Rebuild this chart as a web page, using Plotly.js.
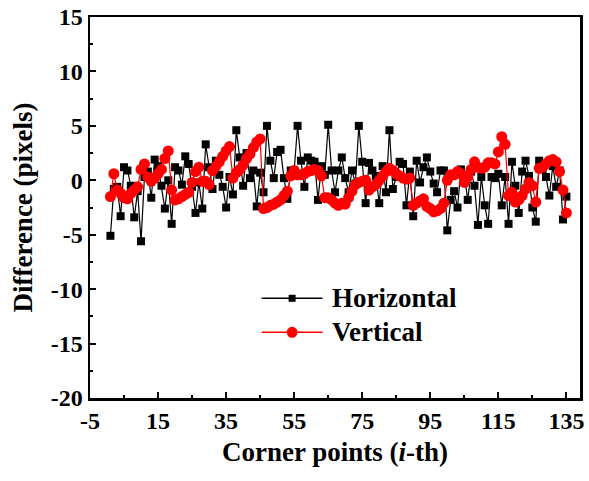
<!DOCTYPE html>
<html>
<head>
<meta charset="utf-8">
<script src="https://cdn.plot.ly/plotly-3.0.1.min.js"></script>
<style>html,body{margin:0;padding:0;background:#fff}#chart{width:589px;height:481px}</style>
</head>
<body>
<div id="chart"></div>
<script>
// Corner point index
const cornerIndex = Array.from({length: 135}, (_, k) => k + 1);

// Horizontal difference (pixels)
const horizontal = [
 -5.1,-0.8,-0.6,-3.3,1.2,0.9,-0.5,-3.4,-1.0,-5.6,
 0.3,0.8,-1.6,1.9,1.3,-0.5,-2.6,0.0,-4.0,1.2,
 0.9,-0.4,2.2,1.5,-0.6,-3.0,-0.2,-2.6,3.3,1.2,
 -0.8,1.8,0.5,-0.6,-2.5,0.3,-1.3,4.6,2.1,-0.5,
 2.5,0.2,0.9,-2.4,0.7,-1.1,5.0,1.8,0.2,2.6,
 2.8,0.2,-1.7,0.9,0.9,5.0,1.8,-0.6,2.1,1.8,
 1.7,-1.8,1.3,0.5,5.1,0.9,-1.1,0.9,2.1,0.2,
 -1.1,0.9,-0.3,5.0,1.7,-2.1,1.6,0.9,0.4,-2.1,
 1.3,-1.1,4.6,-0.8,0.3,1.7,1.5,-2.3,0.8,-3.3,
 1.8,-0.2,1.2,2.1,0.8,-0.3,-1.1,0.9,0.9,-4.6,
 -1.8,-1.0,-2.5,1.0,0.5,-1.8,0.8,-0.5,-4.1,0.3,
 -2.3,-4.0,0.3,0.2,0.6,-2.3,0.3,-4.0,1.7,-0.5,
 -3.0,0.8,1.8,0.4,-2.5,-3.8,1.8,1.0,0.3,-1.4,
 1.3,-0.6,0.9,-3.6,-1.5
];

// Vertical difference (pixels)
const vertical = [
 -1.5,0.6,-0.9,-1.2,-1.6,-1.7,-1.2,-0.9,-0.6,1.0,
 1.5,0.3,-0.1,0.2,0.6,1.0,2.0,2.7,-0.9,-1.8,
 -1.7,-1.5,-1.3,-1.1,-0.2,0.8,1.2,-0.1,-0.1,-0.4,
 0.9,1.3,1.7,2.2,2.7,3.1,0.2,0.7,1.0,1.4,
 2.0,2.4,3.0,3.5,3.8,-2.6,-2.5,-2.3,-2.2,-2.0,
 -1.8,-1.4,-1.0,0.4,0.9,0.5,0.5,0.6,0.8,0.9,
 1.0,0.9,0.4,-1.6,-1.6,-1.8,-2.1,-2.3,-2.1,-2.2,
 -1.6,-1.0,-0.4,-0.2,-0.1,0.0,-0.9,-0.6,-0.4,0.0,
 0.4,0.8,1.1,0.9,0.6,0.4,0.2,0.1,0.2,-2.3,
 -2.1,-1.9,-1.7,-2.4,-2.6,-2.9,-2.8,-2.6,-2.1,0.0,
 0.5,0.5,0.8,0.6,-0.2,0.3,1.0,1.7,1.2,1.1,
 1.2,1.6,1.6,1.5,2.6,4.0,3.3,-1.4,-1.1,-2.0,
 -1.8,-1.4,-0.8,-0.2,-0.5,-2.0,1.1,1.2,1.5,1.8,
 1.9,1.7,0.8,-0.9,-3.0
];

const seriesNames = ['Horizontal', 'Vertical'];
const seriesColors = ['#000000', '#ff0000'];
const xTickVals = [-5, 15, 35, 55, 75, 95, 115, 135];
const yTickVals = [-20, -15, -10, -5, 0, 5, 10, 15];

const fontFam = 'Liberation Serif, Times New Roman, serif';

const traces = [
  {
    x: cornerIndex, y: horizontal, name: seriesNames[0], type: 'scatter', mode: 'lines+markers',
    line: {color: seriesColors[0], width: 1.2},
    marker: {symbol: 'square', size: 8, color: seriesColors[0]},
    showlegend: false
  },
  {
    x: cornerIndex, y: vertical, name: seriesNames[1], type: 'scatter', mode: 'lines+markers',
    line: {color: seriesColors[1], width: 1.2},
    marker: {symbol: 'circle', size: 11, color: seriesColors[1]},
    showlegend: false
  }
];

const axisCommon = {
  showline: true, mirror: true, linecolor: '#000', linewidth: 2.5,
  ticks: 'inside', ticklen: 6, tickwidth: 2, tickcolor: '#000',
  showgrid: false, zeroline: false,
  tickfont: {family: fontFam, size: 24, color: '#000', weight: 'bold'}
};

// custom legend (line sample 60px, marker, label)
const legX0 = 0.3503, legX1 = 0.4745, legMark = 0.4125, legText = 0.490;
const legY = [0.2617, 0.1724];
const shapes = [];
const annotations = [];
seriesNames.forEach((nm, k) => {
  shapes.push({type: 'line', xref: 'paper', yref: 'paper', x0: legX0, x1: legX1, y0: legY[k], y1: legY[k],
               line: {color: seriesColors[k], width: 1.5}});
  if (k === 0) {
    shapes.push({type: 'rect', xref: 'paper', yref: 'paper', xsizemode: 'pixel', ysizemode: 'pixel',
                 xanchor: legMark, yanchor: legY[k], x0: -3.5, x1: 3.5, y0: -3.5, y1: 3.5,
                 fillcolor: seriesColors[k], line: {width: 0}});
  } else {
    shapes.push({type: 'circle', xref: 'paper', yref: 'paper', xsizemode: 'pixel', ysizemode: 'pixel',
                 xanchor: legMark, yanchor: legY[k], x0: -5.5, x1: 5.5, y0: -5.5, y1: 5.5,
                 fillcolor: seriesColors[k], line: {width: 0}});
  }
  annotations.push({xref: 'paper', yref: 'paper', x: legText, y: legY[k], xanchor: 'left', yanchor: 'middle',
                    text: nm, showarrow: false,
                    font: {family: fontFam, size: 27, color: '#000', weight: 'bold'}});
});

const layout = {
  width: 589, height: 481,
  margin: {l: 90, r: 9, t: 17, b: 83},
  paper_bgcolor: '#fff', plot_bgcolor: '#fff',
  showlegend: false,
  shapes: shapes,
  annotations: annotations,
  xaxis: Object.assign({}, axisCommon, {
    range: [-5, 139], tickvals: xTickVals, ticktext: xTickVals.map(String),
    minor: {ticks: 'inside', dtick: 10, tick0: -5, ticklen: 3, tickwidth: 2, tickcolor: '#000'},
    title: {text: 'Corner points (<i>i</i>-th)', standoff: 9,
            font: {family: fontFam, size: 27, color: '#000', weight: 'bold'}}
  }),
  yaxis: Object.assign({}, axisCommon, {
    range: [-20, 15], tickvals: yTickVals, ticktext: yTickVals.map(String),
    minor: {ticks: 'inside', dtick: 2.5, tick0: 0, ticklen: 3, tickwidth: 2, tickcolor: '#000'},
    title: {text: 'Difference (pixels)', standoff: 11,
            font: {family: fontFam, size: 27, color: '#000', weight: 'bold'}}
  })
};

Plotly.newPlot('chart', traces, layout, {displayModeBar: false, staticPlot: true});
</script>
</body>
</html>
